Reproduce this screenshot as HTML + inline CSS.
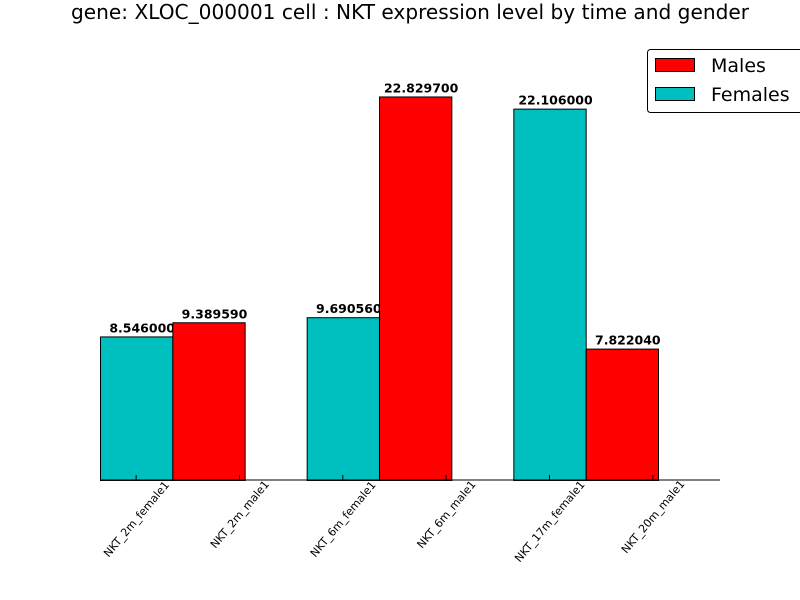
<!DOCTYPE html>
<html><head><meta charset="utf-8"><style>
body{margin:0;background:#fff;}
svg{display:block;font-family:"DejaVu Sans","Liberation Sans",sans-serif;}
</style></head><body>
<svg id="chart" width="800" height="600" viewBox="0 0 800 600">
<rect x="0" y="0" width="800" height="600" fill="#fff"/>
<text x="410" y="19" text-anchor="middle" font-size="20" textLength="678" lengthAdjust="spacingAndGlyphs">gene: XLOC_000001 cell : NKT expression level by time and gender</text>
<g id="bars"></g>
<line x1="100" y1="480" x2="720" y2="480" stroke="#000" stroke-width="1"/>
<g id="ticks"></g>
<g>
<rect x="647.5" y="49.5" width="170" height="63" rx="3" fill="#fff" stroke="#000" stroke-width="1"/>
<rect x="655.5" y="58.5" width="39" height="13" fill="#ff0000" stroke="#000"/>
<text x="711" y="72" font-size="19">Males</text>
<rect x="655.5" y="87.5" width="39" height="13" fill="#00bfbf" stroke="#000"/>
<text x="711" y="101" font-size="19">Females</text>
</g>
</svg>
<script>
const groups = [0, 1, 2];
const femaleValues = [8.546, 9.69056, 22.106];
const maleValues = [9.38959, 22.8297, 7.82204];
const femaleLabels = ["8.546000", "9.690560", "22.106000"];
const maleLabels = ["9.389590", "22.829700", "7.822040"];
const tickLabels = ["NKT_2m_female1","NKT_2m_male1","NKT_6m_female1","NKT_6m_male1","NKT_17m_female1","NKT_20m_male1"];

const NS = "http://www.w3.org/2000/svg";
const X0 = 100, X1 = 720, Y0 = 480, Y1 = 60;
const xMax = 6, yMax = 25;
function xs(v){ return X0 + v*(X1-X0)/xMax; }
function ys(v){ return Y0 - v*(Y0-Y1)/yMax; }
const barsG = document.getElementById('bars');
const ticksG = document.getElementById('ticks');
function bar(x, val, color, label, name){
  const r = document.createElementNS(NS,'rect');
  r.setAttribute('x', xs(x)+0.5);
  r.setAttribute('y', ys(val)+0.5);
  r.setAttribute('width', xs(x+0.7)-xs(x));
  r.setAttribute('height', ys(0)-ys(val));
  r.setAttribute('fill', color);
  r.setAttribute('stroke', '#000');
  
  
  barsG.appendChild(r);
  const t = document.createElementNS(NS,'text');
  t.setAttribute('x', (xs(x)+xs(x+0.7))/2 + 6);
  t.setAttribute('y', ys(val)-4);
  t.setAttribute('text-anchor','middle');
  t.setAttribute('font-size','12.5');
  t.setAttribute('font-weight','bold');
  t.textContent = label;
  
  
  barsG.appendChild(t);
}
groups.forEach((g,i)=>{
  bar(2*g, femaleValues[i], '#00bfbf', femaleLabels[i], 'bar-female-' + i);
  bar(2*g+0.7, maleValues[i], '#ff0000', maleLabels[i], 'bar-male-' + i);
});
tickLabels.forEach((lab,i)=>{
  const x = xs(i*(xMax/tickLabels.length) + 0.35);
  const l = document.createElementNS(NS,'line');
  l.setAttribute('x1', x); l.setAttribute('x2', x);
  l.setAttribute('y1', Y0); l.setAttribute('y2', Y0-5);
  l.setAttribute('stroke','#000');
  
  
  ticksG.appendChild(l);
  const t = document.createElementNS(NS,'text');
  const n = lab.length;
  const cy = Y0 + 6 + n*2.35;
  t.setAttribute('x', x); t.setAttribute('y', cy + 4);
  t.setAttribute('text-anchor','middle');
  t.setAttribute('font-size','11');
  t.setAttribute('transform', 'rotate(-50 ' + x + ' ' + cy + ')');
  t.textContent = lab;
  
  
  ticksG.appendChild(t);
});
</script>
</body></html>
